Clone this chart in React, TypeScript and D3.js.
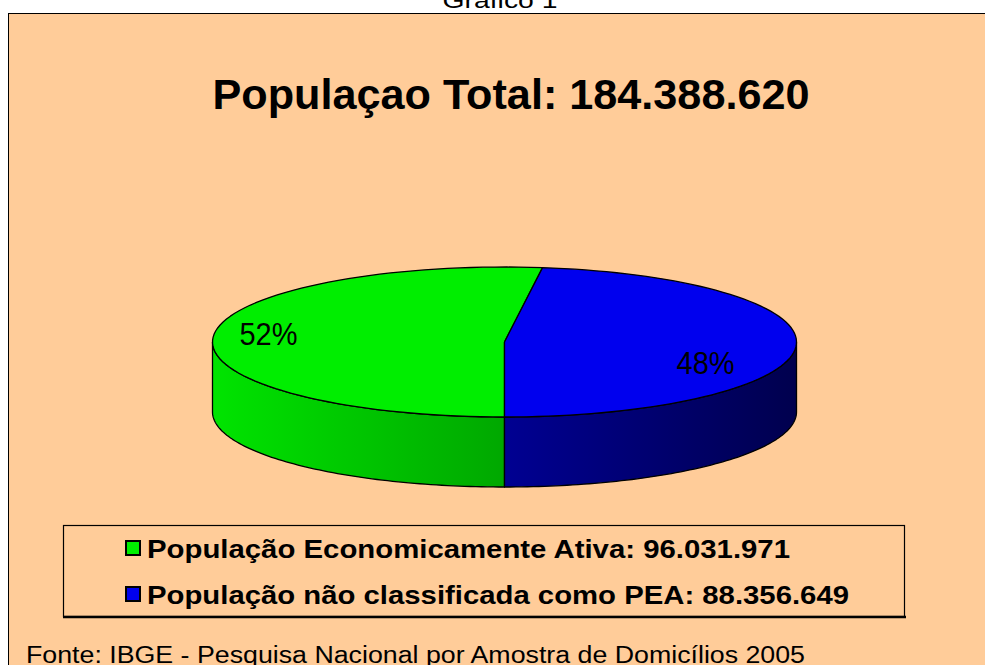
import React, { useRef, useEffect } from "react";
import * as d3 from "d3";

// data
const categories = ["População Economicamente Ativa", "População não classificada como PEA"];
const values = [96031971, 88356649];
const valueLabels = ["96.031.971", "88.356.649"];
const percentLabels = ["52%", "48%"];
const totalLabel = "184.388.620";
const topColors = ["#00EE00", "#0000EE"];
const sideColors = [
  ["#00E400", "#00A800"],
  ["#000092", "#00004E"],
];

const App = () => {
  const svgRef = useRef<SVGSVGElement>(null);

  useEffect(() => {
    const svg = d3.select(svgRef.current);
    svg.selectAll("*").remove();

    const width = 985;
    const height = 665;
    const font = "'Liberation Sans', Arial, sans-serif";

    svg.attr("width", width).attr("height", height);

    // caption above the frame
    svg
      .append("text")
      .attr("x", 500)
      .attr("y", 8)
      .attr("text-anchor", "middle")
      .attr("font-family", font)
      .attr("font-size", 22)
      .attr("textLength", 115)
      .attr("lengthAdjust", "spacingAndGlyphs")
      .text("Grafico 1");

    // chart area
    svg
      .append("rect")
      .attr("x", 8.5)
      .attr("y", 13.5)
      .attr("width", width)
      .attr("height", height)
      .attr("fill", "#FFCC99")
      .attr("stroke", "#000")
      .attr("stroke-width", 1);

    // title
    svg
      .append("text")
      .attr("x", 511)
      .attr("y", 109)
      .attr("text-anchor", "middle")
      .attr("font-family", font)
      .attr("font-weight", "bold")
      .attr("font-size", 42)
      .attr("textLength", 597)
      .attr("lengthAdjust", "spacingAndGlyphs")
      .text(`Populaçao Total: ${totalLabel}`);

    // 3d pie
    const cx = 504.5;
    const cy = 342;
    const rx = 292;
    const ry = 75;
    const depth = 70;

    const pt = (a: number, dy = 0): [number, number] => [
      cx + rx * Math.sin(a),
      cy - ry * Math.cos(a) + dy,
    ];
    const arcPts = (a0: number, a1: number, dy: number) =>
      d3.range(0, 81).map((i) => pt(a0 + ((a1 - a0) * i) / 80, dy));

    const arcs = d3
      .pie<number>()
      .sort(null)
      .startAngle(Math.PI)
      .endAngle(3 * Math.PI)(values);

    const defs = svg.append("defs");
    arcs.forEach((_, i) => {
      const g = defs
        .append("linearGradient")
        .attr("id", `side${i}`)
        .attr("gradientUnits", "userSpaceOnUse")
        .attr("x1", i === 0 ? cx - rx : cx)
        .attr("x2", i === 0 ? cx : cx + rx)
        .attr("y1", 0)
        .attr("y2", 0);
      g.append("stop").attr("offset", 0).attr("stop-color", sideColors[i][0]);
      g.append("stop").attr("offset", 1).attr("stop-color", sideColors[i][1]);
    });

    const line = d3.line();

    // side walls (front half only)
    arcs.forEach((a, i) => {
      [0, 1].forEach((k) => {
        const lo = Math.max(a.startAngle, Math.PI / 2 + 2 * Math.PI * k);
        const hi = Math.min(a.endAngle, (3 * Math.PI) / 2 + 2 * Math.PI * k);
        if (hi <= lo) return;
        const pts = [...arcPts(lo, hi, 0), ...arcPts(hi, lo, depth)];
        svg
          .append("path")
          .attr("d", line(pts) + "Z")
          .attr("fill", `url(#side${i})`)
          .attr("stroke", "#000")
          .attr("stroke-width", 1.3)
          .attr("stroke-linejoin", "round");
      });
    });

    // top faces
    arcs.forEach((a, i) => {
      const pts: [number, number][] = [[cx, cy], ...arcPts(a.startAngle, a.endAngle, 0)];
      svg
        .append("path")
        .attr("d", line(pts) + "Z")
        .attr("fill", topColors[i])
        .attr("stroke", "#000")
        .attr("stroke-width", 1.3)
        .attr("stroke-linejoin", "round");
    });

    // percent labels
    const labelK = [0.81, 0.69];
    const labelDy = [7, 29];
    arcs.forEach((a, i) => {
      const mid = (a.startAngle + a.endAngle) / 2;
      const x = cx + rx * labelK[i] * Math.sin(mid);
      const y = cy - ry * labelK[i] * Math.cos(mid) + labelDy[i];
      svg
        .append("text")
        .attr("x", x)
        .attr("y", y)
        .attr("text-anchor", "middle")
        .attr("font-family", font)
        .attr("font-size", 31)
        .attr("textLength", 58)
        .attr("lengthAdjust", "spacingAndGlyphs")
        .text(percentLabels[i]);
    });

    // legend
    svg
      .append("rect")
      .attr("x", 63.5)
      .attr("y", 525.5)
      .attr("width", 841)
      .attr("height", 91)
      .attr("fill", "none")
      .attr("stroke", "#000")
      .attr("stroke-width", 1.2);
    svg
      .append("line")
      .attr("x1", 63)
      .attr("x2", 906)
      .attr("y1", 617)
      .attr("y2", 617)
      .attr("stroke", "#000")
      .attr("stroke-width", 2.5);

    const legendWidths = [643, 702];
    categories.forEach((c, i) => {
      const rowY = 548 + i * 46;
      svg
        .append("rect")
        .attr("x", 126)
        .attr("y", rowY - 7)
        .attr("width", 14)
        .attr("height", 14)
        .attr("fill", topColors[i])
        .attr("stroke", "#000")
        .attr("stroke-width", 2);
      svg
        .append("text")
        .attr("x", 147)
        .attr("y", rowY + 10)
        .attr("font-family", font)
        .attr("font-weight", "bold")
        .attr("font-size", 25)
        .attr("textLength", legendWidths[i])
        .attr("lengthAdjust", "spacingAndGlyphs")
        .text(`${c}: ${valueLabels[i]}`);
    });

    // source
    svg
      .append("text")
      .attr("x", 26)
      .attr("y", 663)
      .attr("font-family", font)
      .attr("font-size", 23)
      .attr("textLength", 779)
      .attr("lengthAdjust", "spacingAndGlyphs")
      .text("Fonte: IBGE - Pesquisa Nacional por Amostra de Domicílios 2005");
  }, []);

  return (
    <svg
      ref={svgRef}
      style={{ position: "absolute", left: 0, top: 0, background: "#fff", display: "block" }}
    />
  );
};

export default App;
